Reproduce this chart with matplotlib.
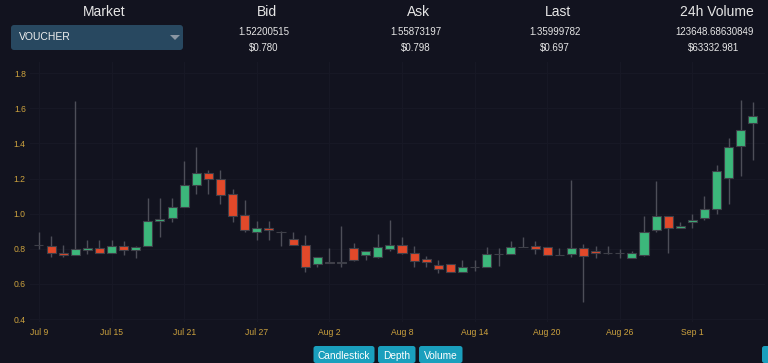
import numpy as np
import pandas as pd
import matplotlib
matplotlib.use('Agg')
import matplotlib.pyplot as plt
import matplotlib.dates as mdates
from matplotlib.patches import FancyBboxPatch, Polygon

plt.rcParams['font.family'] = ['Liberation Sans', 'DejaVu Sans']

# daily candles, VOUCHER market, Jul 9 - Sep 6
dates = pd.date_range('2018-07-09', '2018-09-06', freq='D')
opens = [0.823, 0.816, 0.774, 0.765, 0.795, 0.806, 0.774, 0.816, 0.791, 0.818,
         0.957, 0.974, 1.036, 1.162, 1.234, 1.200, 1.110, 0.991, 0.896, 0.917,
         0.894, 0.854, 0.824, 0.715, 0.727, 0.717, 0.806, 0.765, 0.755, 0.797,
         0.820, 0.776, 0.742, 0.706, 0.715, 0.666, 0.698, 0.694, 0.770, 0.770,
         0.812, 0.814, 0.812, 0.767, 0.768, 0.806, 0.787, 0.776, 0.778, 0.746,
         0.765, 0.905, 0.987, 0.919, 0.951, 0.977, 1.025, 1.205, 1.384, 1.517]
closes = [0.823, 0.774, 0.765, 0.797, 0.806, 0.774, 0.816, 0.791, 0.812, 0.958,
          0.972, 1.038, 1.162, 1.234, 1.198, 1.106, 0.987, 0.905, 0.917, 0.905,
          0.894, 0.822, 0.694, 0.755, 0.717, 0.727, 0.738, 0.786, 0.808, 0.822,
          0.776, 0.732, 0.727, 0.683, 0.666, 0.698, 0.698, 0.768, 0.770, 0.812,
          0.812, 0.799, 0.765, 0.767, 0.805, 0.759, 0.774, 0.776, 0.778, 0.774,
          0.898, 0.987, 0.919, 0.928, 0.962, 1.027, 1.245, 1.378, 1.474, 1.559]
highs = [0.896, 0.873, 0.822, 1.642, 0.852, 0.852, 0.852, 0.846, 0.816, 1.087,
         1.087, 1.087, 1.300, 1.380, 1.247, 1.247, 1.141, 1.076, 0.957, 0.957,
         0.903, 0.894, 0.877, 0.755, 0.805, 0.932, 0.833, 0.786, 0.886, 0.966,
         0.865, 0.816, 0.757, 0.736, 0.715, 0.736, 0.736, 0.812, 0.805, 0.844,
         0.865, 0.846, 0.812, 0.805, 1.192, 0.825, 0.816, 0.816, 0.799, 0.787,
         0.987, 1.186, 0.987, 0.955, 0.998, 1.099, 1.278, 1.431, 1.650, 1.635]
lows = [0.797, 0.755, 0.755, 0.765, 0.768, 0.774, 0.774, 0.765, 0.746, 0.818,
        0.865, 0.953, 1.036, 1.110, 1.114, 1.057, 0.955, 0.894, 0.852, 0.852,
        0.816, 0.822, 0.666, 0.696, 0.717, 0.696, 0.729, 0.738, 0.746, 0.789,
        0.768, 0.696, 0.696, 0.664, 0.666, 0.666, 0.675, 0.694, 0.704, 0.770,
        0.812, 0.772, 0.765, 0.767, 0.755, 0.495, 0.750, 0.768, 0.746, 0.746,
        0.757, 0.896, 0.774, 0.919, 0.917, 0.962, 0.996, 1.057, 1.217, 1.308]

header_titles = ['Bid', 'Ask', 'Last', '24h Volume']
header_prices = ['1.52200515', '1.55873197', '1.35999782', '123648.68630849']
header_usd = ['$0.780', '$0.798', '$0.697', '$63332.981']
buttons = ['Candlestick', 'Depth', 'Volume']

bg = '#12131f'
green = '#3cb77b'
red = '#e1492a'
gold = '#cca23e'
W, H = 768, 363


def fx(x):
    return x / W


def fy(y):
    return 1 - y / H


fig = plt.figure(figsize=(W / 100, H / 100), dpi=100, facecolor=bg)

# header
fig.text(fx(104), fy(12), 'Market', color='#e6e6e6', fontsize=10, ha='center', va='center')
for xc, t, p, u in zip([267, 419, 558, 717], header_titles, header_prices, header_usd):
    fig.text(fx(xc), fy(12), t, color='#e6e6e6', fontsize=10, ha='center', va='center')
    fig.text(fx(xc - 3), fy(32), p, color='#e6e6e6', fontsize=7, ha='center', va='center')
    fig.text(fx(xc - 3), fy(48), u, color='#e6e6e6', fontsize=7, ha='center', va='center')

# dropdown box
box = FancyBboxPatch((11 / 100, (H - 50) / 100), 172 / 100, 25 / 100,
                     boxstyle='round,pad=0,rounding_size=0.03',
                     transform=fig.dpi_scale_trans, facecolor='#284860',
                     edgecolor='none')
fig.patches.append(box)
fig.text(fx(19), fy(37.5), 'VOUCHER', color='#f0f0f0', fontsize=7.5, ha='left', va='center')
tri = Polygon([[170 / 100, (H - 35) / 100], [180 / 100, (H - 35) / 100],
               [175 / 100, (H - 40) / 100]], closed=True,
              transform=fig.dpi_scale_trans, facecolor='#8a96a3', edgecolor='none')
fig.patches.append(tri)

# candlestick axes
ax = fig.add_axes([fx(30), fy(322), fx(735), (322 - 62) / H])
ax.set_facecolor(bg)
x = mdates.date2num(dates)
opens = np.array(opens)
closes = np.array(closes)
colors = np.where(closes > opens, green, np.where(closes < opens, red, '#6a6a72'))

ax.vlines(x, lows, highs, color='#4d4e58', linewidth=1, zorder=2)
ax.bar(x, np.abs(closes - opens), bottom=np.minimum(opens, closes), width=0.75,
       color=colors, edgecolor='#3e3f48', linewidth=0.8, zorder=3)

ax.set_xlim(x[0] - 0.74, x[-1] + 1.0)
ax.set_ylim(0.383, 1.864)
ax.set_yticks([0.4, 0.6, 0.8, 1.0, 1.2, 1.4, 1.6, 1.8])
ax.set_yticklabels(['0.4', '0.6', '0.8', '1.0', '1.2', '1.4', '1.6', '1.8'])
ax.set_xticks(x[::6])
ax.xaxis.set_major_formatter(mdates.DateFormatter('%b %-d'))
ax.tick_params(colors=gold, labelsize=6.2, length=0, pad=4)
ax.tick_params(axis='y', pad=3)
ax.grid(True, color='#171825', linewidth=0.8, zorder=0)
for s in ax.spines.values():
    s.set_visible(False)

# bottom buttons
for (x0, x1), label in zip([(313.5, 374.5), (378, 415.5), (419, 462.5)], buttons):
    b = FancyBboxPatch((x0 / 100, 0), (x1 - x0) / 100, 17 / 100,
                       boxstyle='round,pad=0,rounding_size=0.025',
                       transform=fig.dpi_scale_trans, facecolor='#1a9fbd',
                       edgecolor='none')
    fig.patches.append(b)
    fig.text(fx((x0 + x1) / 2), fy(356), label, color='white', fontsize=7.3,
             ha='center', va='center')
edge = FancyBboxPatch((762 / 100, 0), 20 / 100, 17 / 100,
                      boxstyle='round,pad=0,rounding_size=0.025',
                      transform=fig.dpi_scale_trans, facecolor='#1a9fbd',
                      edgecolor='none')
fig.patches.append(edge)

fig.savefig('out.png', dpi=100, facecolor=bg)
